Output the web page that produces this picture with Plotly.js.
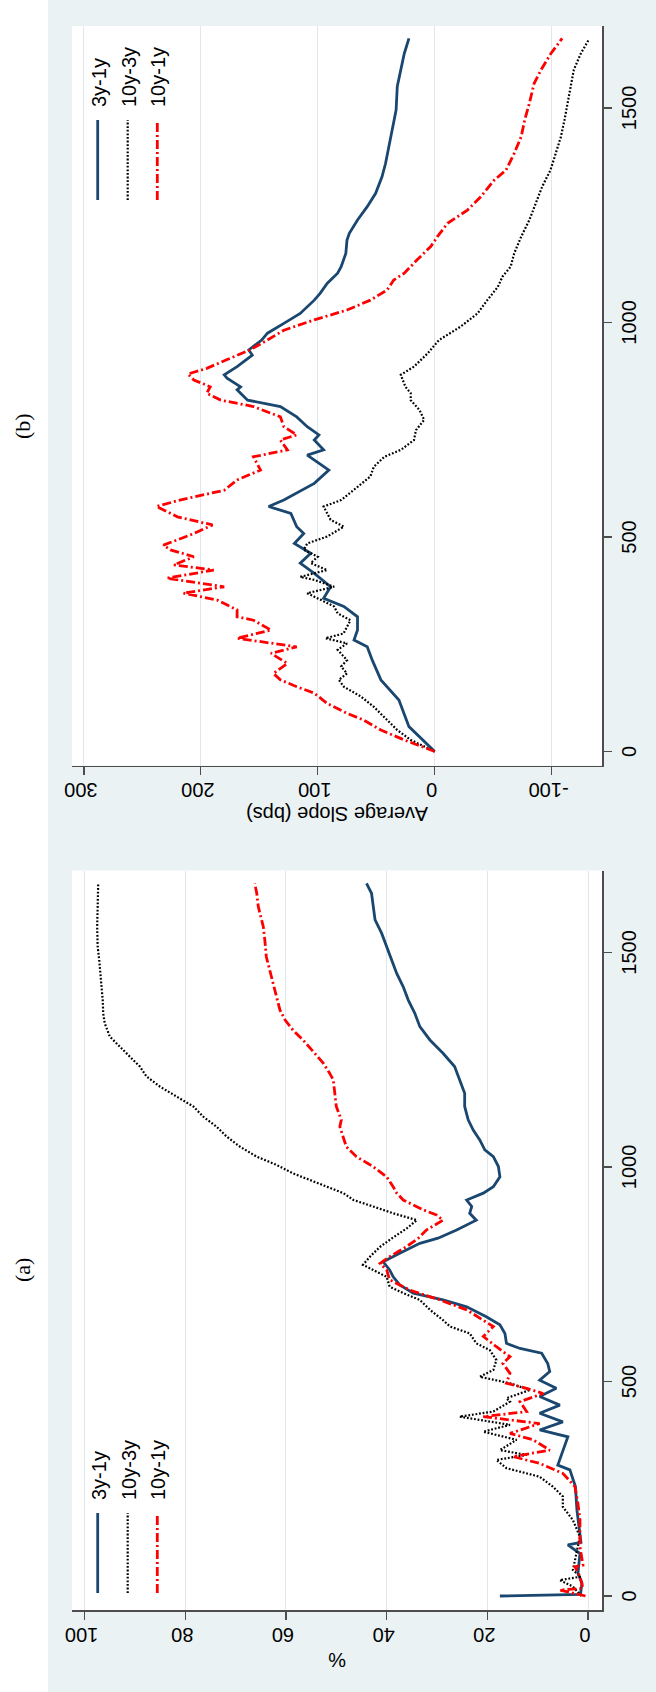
<!DOCTYPE html>
<html>
<head>
<meta charset="utf-8">
<script src="https://cdn.plot.ly/plotly-3.0.1.min.js"></script>
<style>
html, body { margin:0; padding:0; width:656px; height:1692px; overflow:hidden; background:#ffffff; }
#wrap { position:absolute; left:0; top:0; width:1692px; height:656px; transform-origin:0 0; transform:translate(0px,1692px) rotate(-90deg); }
#bg { position:absolute; left:0; top:48px; width:1692px; height:608px; background:#eaf2f3; }
#chart { position:absolute; left:0; top:0; width:1692px; height:656px; }
</style>
</head>
<body>
<div id="wrap"><div id="bg"></div><div id="chart"></div></div>
<script>
// ---------- Panel (a): % ----------
const a31_x = [0,2,4,30,53,99,119,125,160,200,255,294,305,340,371,387,406,426,445,465,484,503,523,542,566,577,589,612,632,651,674,690,706,725,744,760,779,799,822,834,853,876,892,908,923,939,954,977,1001,1024,1040,1063,1086,1110,1141,1172,1203,1234,1265,1296,1327,1358,1389,1420,1451,1483,1514,1545,1576,1607,1638,1661];
const a31_y = [17.5,10.5,1.5,1.2,2,1.6,4,1.4,1.8,2.2,2.5,3.6,6,5,4,9.6,5,9.6,5.6,9.6,6.3,9.6,7.6,8,9.2,13.5,16.2,16.5,17.5,20.2,24.1,28.8,34.7,37.4,38.7,39.4,40.7,37.4,33.4,29.8,26.1,22.2,23.5,23.1,24.1,20.8,18.8,17.5,17.8,18.8,20.5,21.5,22.8,23.8,24.5,24.5,25.5,26.5,28.8,31.4,33.4,34.4,35.7,36.7,38,39,40,41,42.3,42.7,43,44];

const a103_x = [0,22,37,45,61,99,138,177,208,232,255,278,298,317,329,340,364,383,399,418,430,453,461,480,496,511,527,550,573,589,612,628,643,667,690,706,721,744,772,791,814,830,845,857,876,892,908,923,939,954,970,985,1005,1024,1047,1071,1094,1117,1141,1164,1187,1211,1234,1257,1280,1304,1335,1358,1389,1420,1451,1483,1514,1560,1607,1661];
const a103_y = [1.3,3,5.6,1.5,3,2.3,1.6,3,5,5,7,9.6,16.2,18.2,12.2,17.5,14.2,20.8,15.5,25.5,18.8,15.5,16.2,11.6,15.5,21.5,18.8,18.2,19.5,22.2,23.5,27.4,28.8,31.4,33.4,36.7,39.4,40,44.7,43.3,41.3,39.4,37.4,36,34,38.7,42.7,46.6,48.6,51.9,55.3,58.6,61.9,65.8,69.1,71.8,73.8,76.4,78.4,81.7,85,87.7,89,91,93,95,96,96.3,96.4,96.6,96.8,97.1,97.4,97.5,97.4,97.3];

const a101_x = [0,14,18,45,68,72,115,177,216,255,286,309,325,340,364,379,402,418,430,453,472,484,496,519,542,558,581,605,628,643,667,690,713,737,760,775,791,814,834,853,876,888,900,923,939,954,977,1001,1024,1047,1071,1094,1110,1141,1172,1203,1218,1242,1265,1296,1319,1343,1366,1397,1428,1459,1490,1529,1560,1607,1638,1661];
const a101_y = [0.5,5.6,1,1.6,2.6,1,1.6,1.6,2,2.6,5,9.6,14.9,7.6,10.9,15.5,9.6,20.8,12.2,13.5,8.9,12.2,16.2,15.5,16.9,15.5,18.2,20.8,18.8,20.8,24.1,29.4,35.4,39.4,40,41.3,39.4,36.1,33.7,32.1,28.8,30.1,32.7,36.7,38,38.7,40,42.7,46,48,48.6,49.3,49,50,50.3,50.6,51.3,52.6,54.3,56.6,58.6,60.2,61.2,61.9,62.5,63.2,63.9,64.2,64.5,65.5,65.8,66.2];

// ---------- Panel (b): Average Slope (bps) ----------
const b31_x = [0,58,120,167,213,244,260,283,314,338,357,384,415,439,462,485,508,524,555,571,586,625,656,679,691,703,726,738,757,780,804,819,843,850,870,878,897,924,936,959,975,998,1021,1052,1068,1091,1115,1130,1161,1192,1208,1239,1270,1301,1340,1371,1410,1449,1495,1550,1589,1627,1662];
const b31_y = [0,22,30.6,46,53.4,57.7,69,66,66,77.7,95,89,103,115,106,120,112,118,123,142,129,103,90.5,103,109,95,103,99,109,118,132,160,169,166,177.6,180,169,156,159,148,143,129,115,103,98,92,83,80,76,75,73,66,57.7,50.5,45,42,39,36,33,32,29,26,22];

const b103_x = [0,27,50,73,104,128,151,167,182,198,213,237,252,264,275,306,322,338,353,369,384,400,407,423,439,454,470,485,501,524,540,571,586,617,641,664,687,703,726,749,773,796,819,835,850,878,897,928,959,990,1021,1052,1083,1107,1130,1161,1200,1239,1278,1317,1355,1394,1433,1472,1511,1550,1589,1627,1660];
const b103_y = [0,20.5,32,40.5,52,63,77.7,82,75,80,75,83,75,93.4,78,72,83,86,97.7,109,86,103,115,92,106,100,112,109,92,77.7,89,95,80,66,55,52,43,29,17.7,16,9,13,20.5,20.5,25,29,17.7,6,-3.7,-22,-36.6,-45,-54,-58,-65,-68,-74,-81,-86.5,-92,-99,-103.7,-108,-111,-113.7,-116.5,-119,-125,-132];

const b101_x = [0,27,50,73,89,112,136,151,167,182,205,229,244,264,283,306,314,330,353,369,384,404,423,435,454,470,481,508,528,547,571,586,609,633,656,687,703,726,738,757,780,804,819,835,850,866,880,893,913,936,959,982,1006,1029,1052,1076,1099,1115,1146,1177,1200,1231,1262,1293,1332,1355,1394,1433,1472,1511,1557,1589,1627,1662];
const b101_y = [0,26,46,60.5,75,92,103,118,132,138,126,140,118,169,140,155,169,169,186,215,180,229,189,223,206,226,232,206,190,220,238,218,180,169,149,155,126,132,118,129,132,155,183,195,192,206,211,195,178,158,143,129,103,75,55,40.5,35,26,15,3.4,-2.3,-11,-28,-39.4,-51,-61,-68,-74,-77,-81,-85,-91,-99.4,-109];

// ---------- ticks ----------
const xTicks = [0, 500, 1000, 1500];
const aTicks = [0, 20, 40, 60, 80, 100];
const bTicks = [-100, 0, 100, 200, 300];
const bTickText = ["-100", "0", "100", "200", "300"];
const seriesNames = ["3y-1y", "10y-3y", "10y-1y"];

const NAVY = '#1a476f', BLK = '#000000', RED = '#ff0000';
const styles = [
  {color: NAVY, width: 2.8, dash: 'solid'},
  {color: BLK, width: 2.2, dash: '1.8px,1.8px'},
  {color: RED, width: 2.8, dash: '9px,3px,2px,3px'}
];

const W = 1692, H = 656, ML = 82, MR = 26, MT = 72, MB = 54;
const PW = W - ML - MR, PH = H - MT - MB;
const px = ox => (ox - ML) / PW;
const py = oy => (H - MB - oy) / PH;

function tr(x, y, i, xa, ya) {
  return {x: x, y: y, type: 'scatter', mode: 'lines', name: seriesNames[i],
          xaxis: xa, yaxis: ya, line: Object.assign({}, styles[i]), hoverinfo: 'skip'};
}

const data = [
  tr(a31_x, a31_y, 0, 'x', 'y'),
  tr(a103_x, a103_y, 1, 'x', 'y'),
  tr(a101_x, a101_y, 2, 'x', 'y'),
  tr(b31_x, b31_y, 0, 'x2', 'y2'),
  tr(b103_x, b103_y, 1, 'x2', 'y2'),
  tr(b101_x, b101_y, 2, 'x2', 'y2')
];

const tickFont = {family: 'Liberation Sans, Arial, sans-serif', size: 20, color: '#000000'};
const AX = '#4d4d4d';
const xCommon = {range: [-32.6, 1691], tickmode: 'array', tickvals: xTicks, ticks: 'outside', ticklen: 8,
  tickwidth: 1.2, tickcolor: AX, showline: true, linecolor: AX, linewidth: 1.5, showgrid: false,
  zeroline: false, tickfont: tickFont, fixedrange: true};
const yCommon = {ticks: 'outside', ticklen: 8, tickwidth: 1.2, tickcolor: AX, showline: true, linecolor: AX,
  linewidth: 1.5, showgrid: true, gridcolor: '#dde7ec', gridwidth: 1, zeroline: false, tickangle: -90,
  tickfont: tickFont, tickmode: 'array', fixedrange: true};

const shapes = [];
const annotations = [];
// legend (a) upper-left, legend (b) upper-right
const legendRows = [97.7, 127.7, 157.3];
function addLegend(x0, x1, xt) {
  legendRows.forEach((oy, i) => {
    shapes.push({type: 'line', xref: 'paper', yref: 'paper', x0: px(x0), x1: px(x1), y0: py(oy), y1: py(oy),
      line: {color: styles[i].color, width: styles[i].width, dash: styles[i].dash}});
    annotations.push({xref: 'paper', yref: 'paper', x: px(xt), y: py(oy + 1), xanchor: 'left', yanchor: 'middle',
      text: seriesNames[i], showarrow: false, font: {family: 'Liberation Sans, Arial, sans-serif', size: 20, color: '#000'}});
  });
}
addLegend(99, 179, 190);
addLegend(1492, 1572, 1583);

const serif = {family: 'Liberation Serif, Times New Roman, serif', size: 22, color: '#000'};
annotations.push({xref: 'paper', yref: 'paper', x: px(422), y: py(23), text: '(a)', showarrow: false, xanchor: 'center', yanchor: 'middle', font: serif});
annotations.push({xref: 'paper', yref: 'paper', x: px(1266), y: py(23), text: '(b)', showarrow: false, xanchor: 'center', yanchor: 'middle', font: serif});
const titleFont = {family: 'Liberation Sans, Arial, sans-serif', size: 20, color: '#000'};
annotations.push({xref: 'paper', yref: 'paper', x: px(32), y: py(337), text: '%', textangle: -90, showarrow: false, xanchor: 'center', yanchor: 'middle', font: titleFont});
annotations.push({xref: 'paper', yref: 'paper', x: px(878), y: py(337), text: 'Average Slope (bps)', textangle: -90, showarrow: false, xanchor: 'center', yanchor: 'middle', font: titleFont});

const layout = {
  width: W, height: H,
  margin: {l: ML, r: MR, t: MT, b: MB, pad: 0},
  paper_bgcolor: 'rgba(0,0,0,0)', plot_bgcolor: '#ffffff',
  showlegend: false, hovermode: false,
  xaxis: Object.assign({}, xCommon, {domain: [0, px(821.5)], anchor: 'y'}),
  yaxis: Object.assign({}, yCommon, {domain: [0, 1], anchor: 'x', range: [-2.78, 102.5], tickvals: aTicks}),
  xaxis2: Object.assign({}, xCommon, {domain: [px(926.5), 1], anchor: 'y2'}),
  yaxis2: Object.assign({}, yCommon, {domain: [0, 1], anchor: 'x2', range: [-143.1, 310.2], tickvals: bTicks, ticktext: bTickText}),
  shapes: shapes,
  annotations: annotations
};

Plotly.newPlot('chart', data, layout, {staticPlot: true, displayModeBar: false});
</script>
</body>
</html>
